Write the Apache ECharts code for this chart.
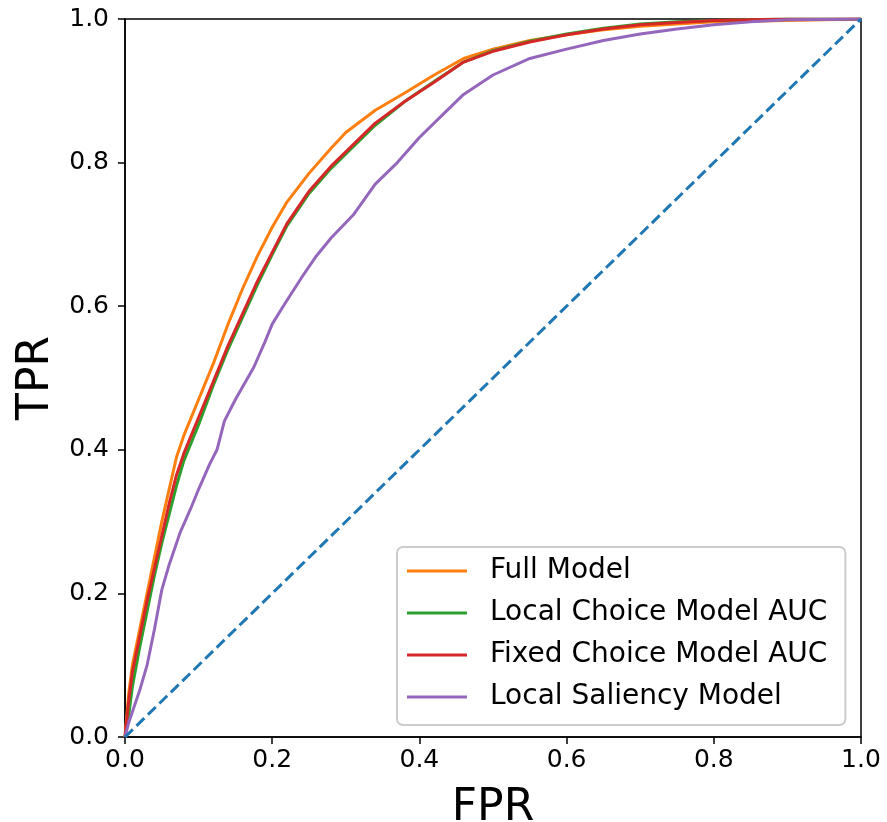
<!DOCTYPE html>
<html>
<head>
<meta charset="utf-8">
<script src="https://cdn.jsdelivr.net/npm/echarts@6/dist/echarts.min.js"></script>
<style>
 html,body{margin:0;padding:0;background:#fff;}
 #container{width:887px;height:822px;}
</style>
</head>
<body>
<div id="container"></div>
<script>
// ROC curves
var fullFpr = [0,0.005,0.01,0.02,0.03,0.04,0.05,0.06,0.07,0.08,0.1,0.12,0.14,0.16,0.18,0.2,0.22,0.25,0.28,0.3,0.34,0.38,0.42,0.46,0.5,0.55,0.6,0.65,0.7,0.75,0.8,0.9,1];
var fullTpr = [0,0.06,0.10,0.15,0.20,0.25,0.30,0.345,0.39,0.42,0.47,0.52,0.575,0.625,0.67,0.71,0.745,0.785,0.82,0.842,0.873,0.897,0.922,0.945,0.958,0.97,0.978,0.985,0.99,0.993,0.996,0.998,1];

var localFpr = [0,0.005,0.01,0.02,0.03,0.04,0.05,0.06,0.07,0.08,0.1,0.12,0.14,0.16,0.18,0.2,0.22,0.25,0.28,0.3,0.34,0.38,0.42,0.46,0.5,0.55,0.6,0.65,0.7,0.75,0.8,0.9,1];
var localTpr = [0,0.03,0.07,0.125,0.175,0.225,0.27,0.31,0.35,0.385,0.435,0.49,0.54,0.585,0.63,0.672,0.712,0.757,0.792,0.812,0.852,0.885,0.913,0.94,0.956,0.969,0.979,0.987,0.993,0.996,0.998,1,1];

var fixedFpr = [0,0.005,0.01,0.02,0.03,0.04,0.05,0.06,0.07,0.08,0.1,0.12,0.14,0.16,0.18,0.2,0.22,0.25,0.28,0.3,0.34,0.38,0.42,0.46,0.5,0.55,0.6,0.65,0.7,0.75,0.8,0.9,1];
var fixedTpr = [0,0.05,0.09,0.14,0.19,0.235,0.28,0.325,0.365,0.395,0.445,0.495,0.545,0.59,0.635,0.675,0.715,0.76,0.795,0.815,0.855,0.885,0.912,0.94,0.955,0.968,0.978,0.986,0.992,0.995,0.998,1,1];

var salFpr = [0,0.005,0.01,0.02,0.03,0.04,0.05,0.06,0.075,0.09,0.1,0.115,0.125,0.135,0.15,0.175,0.19,0.2,0.215,0.24,0.26,0.28,0.31,0.34,0.37,0.4,0.43,0.46,0.5,0.55,0.6,0.65,0.7,0.75,0.8,0.85,0.9,1];
var salTpr = [0,0.02,0.035,0.065,0.10,0.15,0.205,0.24,0.285,0.32,0.345,0.38,0.40,0.44,0.47,0.515,0.55,0.575,0.60,0.64,0.67,0.695,0.727,0.77,0.80,0.835,0.865,0.895,0.922,0.945,0.958,0.97,0.979,0.986,0.992,0.996,0.999,1];

var chanceFpr = [0,1];
var chanceTpr = [0,1];

function pairs(xs,ys){
    return xs.map(function(x,i){return [x,ys[i]];});
}

var dom = document.getElementById("container");
var myChart = echarts.init(dom);
var font = "DejaVu Sans";

function mkLine(name,color,xs,ys,dash){
    return {
        name:name,
        type:'line',
        data:pairs(xs,ys),
        showSymbol:false,
        symbol:'none',
        animation:false,
        lineStyle:{color:color,width:3,type:dash||'solid'},
        itemStyle:{color:color}
    };
}

var axisCommon = {
    type:'value',
    min:0,
    max:1,
    interval:0.2,
    splitLine:{show:false},
    axisLine:{show:true,lineStyle:{color:'#000',width:1.5}},
    axisTick:{show:true,inside:false,length:7,lineStyle:{color:'#000',width:1.5}},
    nameLocation:'middle',
    nameTextStyle:{fontFamily:font,fontSize:44,color:'#000'}
};

option = {
    backgroundColor:'#fff',
    animation:false,
    grid:{left:125,top:19,right:26,bottom:85,containLabel:false,outerBoundsMode:'none',
        show:true,borderColor:'#000',borderWidth:1.5},
    xAxis:echarts.util.merge({
        name:'FPR',
        nameGap:50,
        axisLabel:{fontFamily:font,fontSize:25,color:'#000',margin:11,
            formatter:function(v){return v.toFixed(1);}}
    },axisCommon),
    yAxis:echarts.util.merge({
        name:'TPR',
        nameGap:66,
        axisLabel:{fontFamily:font,fontSize:25,color:'#000',margin:16,
            formatter:function(v){return v.toFixed(1);}}
    },axisCommon),
    legend:{
        orient:'vertical',
        left:397,
        top:547,
        data:['Full Model','Local Choice Model AUC','Fixed Choice Model AUC','Local Saliency Model'],
        icon:'rect',
        itemWidth:60,
        itemHeight:3,
        itemGap:10,
        padding:[8,18,12,10],
        backgroundColor:'#fff',
        borderColor:'#cccccc',
        borderWidth:2,
        borderRadius:6,
        textStyle:{fontFamily:font,fontSize:28,color:'#000',lineHeight:32,padding:[0,0,0,18]}
    },
    series:[
        mkLine('Full Model','#ff7f0e',fullFpr,fullTpr),
        mkLine('Local Choice Model AUC','#2ca02c',localFpr,localTpr),
        mkLine('Fixed Choice Model AUC','#d62728',fixedFpr,fixedTpr),
        mkLine('Local Saliency Model','#9467bd',salFpr,salTpr),
        mkLine('chance','#1f77b4',chanceFpr,chanceTpr,[11,5])
    ]
};
if (option && typeof option === "object") {
    myChart.setOption(option, true);
}
</script>
</body>
</html>
